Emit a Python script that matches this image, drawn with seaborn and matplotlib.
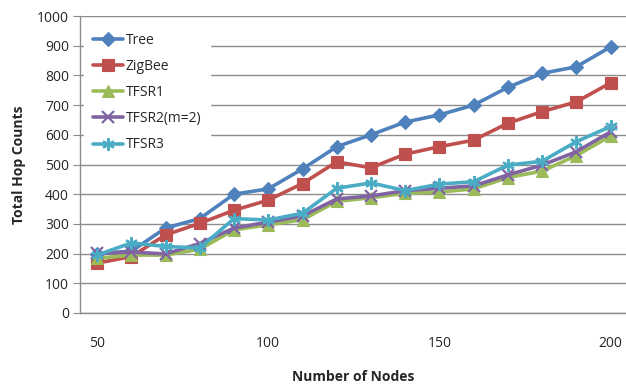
import matplotlib
matplotlib.use("Agg")
import matplotlib.pyplot as plt
import seaborn as sns
import pandas as pd

nodes = [50, 60, 70, 80, 90, 100, 110, 120, 130, 140, 150, 160, 170, 180, 190, 200]
tree = [200, 208, 286, 318, 400, 418, 485, 560, 600, 643, 667, 700, 760, 807, 829, 896]
zigbee = [168, 190, 263, 302, 346, 380, 436, 509, 489, 535, 560, 582, 639, 678, 711, 775]
tfsr1 = [184, 195, 195, 215, 280, 297, 314, 376, 388, 403, 407, 418, 456, 478, 530, 596]
tfsr2 = [201, 205, 199, 234, 286, 306, 327, 384, 394, 412, 420, 428, 465, 498, 543, 610]
tfsr3 = [195, 236, 224, 219, 318, 313, 336, 420, 438, 412, 434, 442, 498, 511, 577, 628]
series_names = ["Tree", "ZigBee", "TFSR1", "TFSR2(m=2)", "TFSR3"]
x_ticks = [50, 100, 150, 200]
y_ticks = list(range(0, 1001, 100))

colors = ["#4F81BD", "#C0504D", "#9BBB59", "#8064A2", "#4BACC6"]
markers = ["D", "s", "^", "x", (6, 2, 0)]
msizes = [7, 9, 8, 8, 9]

sns.set_style("white")
plt.rcParams['font.family'] = ['Open Sans', 'DejaVu Sans']

fig = plt.figure(figsize=(6.26, 3.85), dpi=100)
ax = fig.add_axes([80/626, (385-313)/385, 1 - 80/626, (313-16)/385])

df = pd.DataFrame({"Nodes": nodes})
for name, vals in zip(series_names, [tree, zigbee, tfsr1, tfsr2, tfsr3]):
    df[name] = vals
long = df.melt(id_vars="Nodes", var_name="Series", value_name="Hops")

for name, c, m, ms in zip(series_names, colors, markers, msizes):
    sub = long[long["Series"] == name]
    sns.lineplot(data=sub, x="Nodes", y="Hops", ax=ax, color=c, marker=m,
                 markersize=ms, linewidth=2.6, label=name,
                 markeredgecolor=c, markeredgewidth=1.6 if m in ("x", (6, 2, 0)) else 0.8)

ax.set_xlim(45, 204.5)
ax.set_ylim(0, 1000)
ax.set_yticks(y_ticks)
ax.set_xticks(x_ticks)
ax.yaxis.grid(True, color="#8C8C8C", linewidth=1.0)
ax.set_axisbelow(True)
for s in ["top", "right"]:
    ax.spines[s].set_visible(False)
for s in ["left", "bottom"]:
    ax.spines[s].set_color("#8C8C8C")
    ax.spines[s].set_linewidth(1.0)
ax.tick_params(axis="y", left=True, length=5, color="#8C8C8C", labelsize=10, pad=3)
ax.tick_params(axis="x", bottom=False, labelsize=10, pad=13)
ax.set_xlabel("Number of Nodes", fontsize=10, fontweight="bold", labelpad=14)
ax.set_ylabel("Total Hop Counts", fontsize=10, fontweight="bold", labelpad=8)

leg = ax.legend(loc="upper left", bbox_to_anchor=(0.0, 0.985), frameon=True,
                fontsize=10, handlelength=2.2, labelspacing=0.8,
                handletextpad=0.2, borderpad=0.6, borderaxespad=0.3)
leg.get_frame().set_facecolor("white")
leg.get_frame().set_edgecolor("white")
leg.get_frame().set_alpha(1.0)
leg.get_frame().set_boxstyle("square", pad=0)

fig.savefig("out.png", dpi=100)
